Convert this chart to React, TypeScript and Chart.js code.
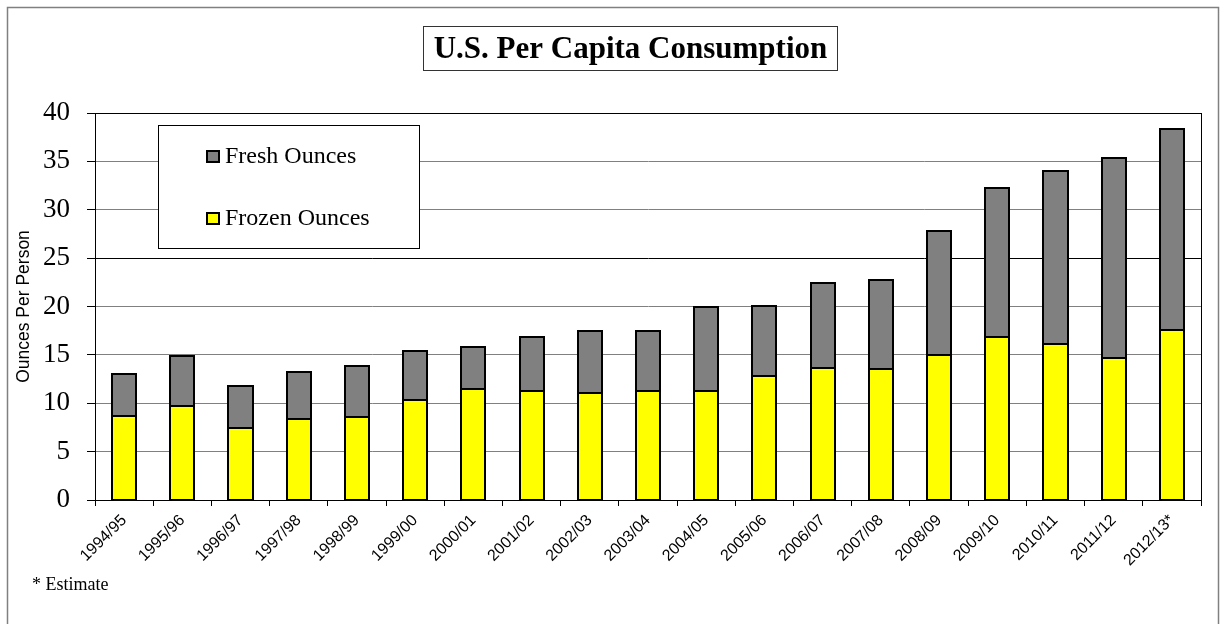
import React, { useEffect, useRef } from "react";
import { Chart, registerables } from "chart.js";

Chart.register(...registerables);

const categories = [
  "1994/95", "1995/96", "1996/97", "1997/98", "1998/99", "1999/00", "2000/01",
  "2001/02", "2002/03", "2003/04", "2004/05", "2005/06", "2006/07", "2007/08",
  "2008/09", "2009/10", "2010/11", "2011/12", "2012/13*",
];
const frozenOunces = [8.7, 9.7, 7.4, 8.4, 8.6, 10.3, 11.5, 11.3, 11.1, 11.3, 11.3, 12.8, 13.6, 13.5, 15.0, 16.8, 16.1, 14.7, 17.6];
const freshOunces = [4.3, 5.2, 4.4, 4.8, 5.2, 5.1, 4.3, 5.5, 6.35, 6.2, 8.7, 7.3, 8.8, 9.2, 12.8, 15.4, 17.9, 20.6, 20.7];
const yTicks = [0, 5, 10, 15, 20, 25, 30, 35, 40];

const titleText = "U.S. Per Capita Consumption";
const yAxisTitle = "Ounces Per Person";
const noteText = "* Estimate";
const legendLabels = ["Fresh Ounces", "Frozen Ounces"];

const W = 1221;
const H = 624;

const outlinePlugin = {
  id: "barOutline",
  afterDatasetsDraw(chart: any) {
    const ctx = chart.ctx;
    ctx.save();
    ctx.strokeStyle = "#000";
    ctx.lineWidth = 2;
    chart.data.datasets.forEach((_: any, di: number) => {
      const meta = chart.getDatasetMeta(di);
      meta.data.forEach((bar: any) => {
        const { x, y, base, width } = bar.getProps(["x", "y", "base", "width"], true);
        const l = Math.round(x - width / 2);
        const r = Math.round(x + width / 2);
        const t = Math.round(Math.min(y, base));
        const b = Math.round(Math.max(y, base));
        ctx.strokeRect(l, t, r - l, b - t);
      });
    });
    ctx.restore();
  },
};

const decorPlugin = {
  id: "decor",
  afterDraw(chart: any) {
    const ctx = chart.ctx;
    const area = chart.chartArea;
    ctx.save();
    // outer frame
    ctx.strokeStyle = "#808080";
    ctx.lineWidth = 1.5;
    ctx.strokeRect(7.5, 7.5, 1211, 700);

    // plot border
    ctx.strokeStyle = "#000";
    ctx.lineWidth = 1;
    ctx.strokeRect(Math.round(area.left) + 0.5, Math.round(area.top) + 0.5, Math.round(area.right - area.left), Math.round(area.bottom - area.top));

    // title box
    ctx.fillStyle = "#fff";
    ctx.fillRect(423.5, 26.5, 414, 44);
    ctx.strokeStyle = "#333";
    ctx.lineWidth = 1;
    ctx.strokeRect(423.5, 26.5, 414, 44);
    ctx.fillStyle = "#000";
    ctx.font = "bold 31px 'Liberation Serif'";
    ctx.textAlign = "center";
    ctx.textBaseline = "middle";
    ctx.fillText(titleText, 630.5, 50);

    // legend box
    ctx.fillStyle = "#fff";
    ctx.fillRect(158.5, 125.5, 261, 123);
    ctx.strokeStyle = "#000";
    ctx.strokeRect(158.5, 125.5, 261, 123);
    const sets = chart.data.datasets;
    const legendItems = [
      { label: legendLabels[0], color: sets[1].backgroundColor, y: 150 },
      { label: legendLabels[1], color: sets[0].backgroundColor, y: 212 },
    ];
    ctx.font = "24px 'Liberation Serif'";
    ctx.textAlign = "left";
    ctx.textBaseline = "middle";
    for (const it of legendItems) {
      ctx.fillStyle = it.color;
      ctx.fillRect(206, it.y, 14, 13);
      ctx.strokeStyle = "#000";
      ctx.lineWidth = 2;
      ctx.strokeRect(207, it.y + 1, 12, 11);
      ctx.fillStyle = "#000";
      ctx.fillText(it.label, 225, it.y + 7);
    }

    // note
    ctx.font = "18px 'Liberation Serif'";
    ctx.fillText(noteText, 32, 585);
    ctx.restore();
  },
};

export default function App() {
  const ref = useRef<HTMLCanvasElement | null>(null);

  useEffect(() => {
    document.body.style.margin = "0";
    document.body.style.overflow = "hidden";
    const canvas = ref.current;
    if (!canvas) return;
    const chart = new Chart(canvas, {
      type: "bar",
      data: {
        labels: categories,
        datasets: [
          {
            label: legendLabels[1],
            data: frozenOunces,
            backgroundColor: "#FFFF00",
            borderColor: "#000",
            borderWidth: 0,
            inflateAmount: 0,
            barPercentage: 0.415,
            categoryPercentage: 1,
          },
          {
            label: legendLabels[0],
            data: freshOunces,
            backgroundColor: "#808080",
            borderColor: "#000",
            borderWidth: 0,
            inflateAmount: 0,
            barPercentage: 0.415,
            categoryPercentage: 1,
          },
        ],
      },
      options: {
        responsive: false,
        animation: false,
        devicePixelRatio: 1,
        layout: { padding: { top: 113, right: 20, left: 0, bottom: 0 } },
        plugins: {
          legend: { display: false },
          title: { display: false },
          tooltip: { enabled: false },
        },
        scales: {
          x: {
            stacked: true,
            grid: {
              offset: true,
              drawOnChartArea: false,
              drawTicks: true,
              tickLength: 6,
              color: "#000",
              tickColor: "#000",
            },
            border: { color: "#000", width: 1 },
            ticks: {
              color: "#000",
              font: { family: "'Liberation Sans'", size: 16 },
              minRotation: 45,
              maxRotation: 45,
              autoSkip: false,
              labelOffset: 0,
              padding: 5,
            },
            afterFit: (s: any) => {
              s.height = 124;
            },
          },
          y: {
            stacked: true,
            min: 0,
            max: 40,
            afterBuildTicks: (s: any) => {
              s.ticks = yTicks.map((v) => ({ value: v }));
            },
            grid: {
              color: (c: any) => (c.tick && (c.tick.value === 25 || c.tick.value === 40) ? "#000" : "#808080"),
              tickColor: "#000",
              tickLength: 8,
              drawTicks: true,
            },
            border: { color: "#000", width: 1 },
            ticks: {
              color: "#000",
              font: { family: "'Liberation Serif'", size: 27 },
              padding: 17,
            },
            title: {
              display: true,
              text: yAxisTitle,
              color: "#000",
              font: { family: "'Liberation Sans'", size: 17.5 },
              padding: { top: 14, bottom: 0 },
            },
            afterFit: (s: any) => {
              s.width = 95;
            },
          },
        },
      },
      plugins: [outlinePlugin, decorPlugin],
    } as any);
    return () => chart.destroy();
  }, []);

  return (
    <div style={{ width: W, height: H, background: "#fff" }}>
      <canvas ref={ref} width={W} height={H} style={{ display: "block", width: W, height: H }} />
    </div>
  );
}
